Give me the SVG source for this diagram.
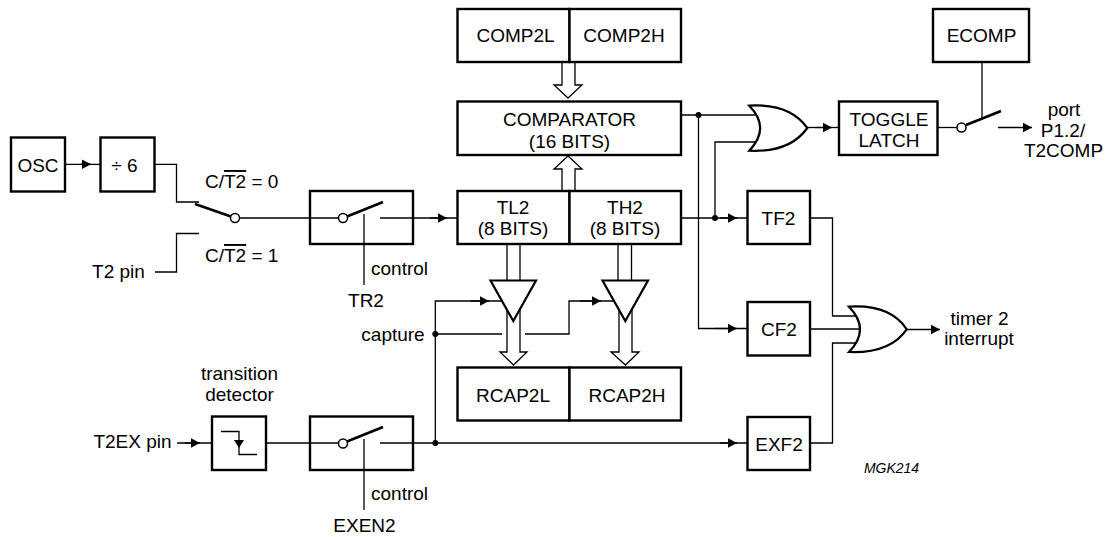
<svg xmlns="http://www.w3.org/2000/svg" width="1107" height="537" viewBox="0 0 1107 537">
<style>
text{font-family:"Liberation Sans",Arial,sans-serif;font-size:19px;fill:#000;text-anchor:middle}
.s{text-anchor:start}
.b{fill:#fff;stroke:#000;stroke-width:2.4}
.n{fill:none;stroke:#000;stroke-width:2.4}
.w{fill:none;stroke:#000;stroke-width:1.3}
.l{fill:none;stroke:#000;stroke-width:2.6}
.c{fill:#fff;stroke:#000;stroke-width:1.5}
.d{fill:#000}
.bus{fill:#fff;stroke:#000;stroke-width:1.3}
.g{fill:#fff;stroke:#000;stroke-width:2.2}
.e{marker-end:url(#ah)}
</style>
<defs>
<marker id="ah" markerUnits="userSpaceOnUse" markerWidth="10" markerHeight="11" refX="9.5" refY="5.5" orient="auto"><path d="M0,0.5L9.5,5.5L0,10.5Z" fill="#000"/></marker>
</defs>
<g id="connectors">
<path class="w" d="M65,164.300H100"/><path class="w e" d="M80,164.300H91"/>
<path class="w" d="M155,164.300H176.500V202H199"/>
<path class="w" d="M155,272H176.500V233.500H199"/>
<path class="w" d="M240,218H339"/>
<path class="w" d="M380,218H457"/><path class="w e" d="M430,218H447"/>
<path class="w" d="M364,214V285"/>
<path class="w" d="M177,443H212"/><path class="w e" d="M185,443H200"/>
<path class="w" d="M266,443H339"/>
<path class="w" d="M380,443H747"/><path class="w e" d="M720,443H737"/>
<path class="w" d="M364,439V510"/>
<path class="w" d="M435.300,443V301H502"/><path class="w e" d="M470,301H489"/>
<path class="w" d="M435,334H502"/>
<path class="w" d="M525,334H569V301H613"/><path class="w e" d="M580,301H601"/>
<path class="w" d="M681,115H755"/>
<path class="w" d="M698.500,115V328.500H747"/><path class="w e" d="M715,328.500H737"/>
<path class="w" d="M681,218H747"/><path class="w e" d="M720,218H737"/>
<path class="w" d="M715,218V142H755"/>
<path class="w" d="M807,127.500H839"/><path class="w e" d="M815,127.500H832"/>
<path class="w" d="M938,127.500H957"/>
<path class="w" d="M982,62V118"/>
<path class="w e" d="M998,127.500H1032"/>
<path class="w" d="M810,218H832.500V316H855"/>
<path class="w" d="M810,329H859"/>
<path class="w" d="M810,443H832.500V343H855"/>
<path class="w e" d="M907,329.500H940"/>
<circle class="d" cx="698.500" cy="115" r="3"/>
<circle class="d" cx="715" cy="218" r="3"/>
<circle class="d" cx="435.300" cy="334" r="3"/>
<circle class="d" cx="435.300" cy="443" r="3"/>
<path class="bus" d="M562,62V85H554L568,98L582,85H575V62"/>
<path class="bus" d="M562,191V169H554L568,156L582,169H575V191"/>
<path class="w" d="M507,244V282M520,244V282M618,244V282M631.500,244V282"/>
<path class="bus" d="M507,310V352H500L513.500,365L527,352H520V310"/>
<path class="bus" d="M619,310V352H611L625.500,365L639,352H632V310"/>
</g>
<g id="osc"><rect class="b" x="11" y="137.500" width="54" height="54"/><text x="38" y="172">OSC</text></g>
<g id="div6"><rect class="b" x="100.500" y="137.500" width="54" height="54"/><text x="124.500" y="172">÷ 6</text></g>
<g id="source-switch">
<path class="l" d="M195,204L231,216.500"/><circle class="c" cx="235" cy="218" r="4.500"/>
<text class="s" x="205" y="188">C/<tspan text-decoration="overline">T2</tspan> = 0</text>
<text class="s" x="205" y="262">C/<tspan text-decoration="overline">T2</tspan> = 1</text>
<text x="118.500" y="278">T2 pin</text>
</g>
<g id="tr2-switch">
<rect class="n" x="310" y="191" width="103" height="53"/>
<path class="l" d="M347,216.500L383,202"/><circle class="c" cx="343" cy="218" r="4.500"/>
<text class="s" x="371" y="275">control</text><text x="366" y="307">TR2</text>
</g>
<g id="tl2"><rect class="b" x="457.500" y="191" width="112" height="53"/><text x="513" y="214">TL2</text><text x="513" y="235">(8 BITS)</text></g>
<g id="th2"><rect class="b" x="569.500" y="191" width="111.500" height="53"/><text x="625" y="214">TH2</text><text x="625" y="235">(8 BITS)</text></g>
<g id="comp2l"><rect class="b" x="457.500" y="9" width="112" height="53"/><text x="515.500" y="42">COMP2L</text></g>
<g id="comp2h"><rect class="b" x="569.500" y="9" width="111.500" height="53"/><text x="624" y="42">COMP2H</text></g>
<g id="comparator"><rect class="b" x="457.500" y="101.500" width="223.500" height="53.500"/><text x="569.500" y="126">COMPARATOR</text><text x="569.500" y="148">(16 BITS)</text></g>
<g id="buffer-l"><path class="g" d="M490.500,280.500H536L513.300,321Z"/></g>
<g id="buffer-h"><path class="g" d="M602.500,280.500H648L625.300,321Z"/></g>
<g id="rcap2l"><rect class="b" x="457.500" y="367.500" width="112" height="53"/><text x="513" y="402">RCAP2L</text></g>
<g id="rcap2h"><rect class="b" x="569.500" y="367.500" width="111.500" height="53"/><text x="627" y="402">RCAP2H</text></g>
<text x="393" y="341">capture</text>
<g id="transition-detector">
<rect class="b" x="212" y="416.500" width="54" height="53.500"/>
<path class="w" d="M221,431.500H239V454.500H257"/><path class="d" d="M234,440H244L239,448Z"/>
<text x="239.500" y="380">transition</text><text x="239.500" y="401">detector</text>
</g>
<text x="132.500" y="448">T2EX pin</text>
<g id="exen2-switch">
<rect class="n" x="310" y="416.500" width="103" height="53.500"/>
<path class="l" d="M347,441.500L383,427"/><circle class="c" cx="343" cy="443.500" r="4.500"/>
<text class="s" x="371" y="500">control</text><text x="364.500" y="532">EXEN2</text>
</g>
<g id="or-1"><path class="g" d="M749.300,105.700C776,104 796,112 807.300,128C796,144 776,152 749.300,150.700Q771,128 749.300,105.700Z"/></g>
<g id="toggle-latch"><rect class="b" x="839" y="101.500" width="98.500" height="53.500"/><text x="889" y="126">TOGGLE</text><text x="889" y="147">LATCH</text></g>
<g id="ecomp"><rect class="b" x="933" y="9" width="96" height="53"/><text x="981.500" y="42">ECOMP</text></g>
<g id="output-switch"><path class="l" d="M966,125L1001,111"/><circle class="c" cx="961.500" cy="127.500" r="4.500"/></g>
<g id="port-label"><text x="1064" y="116">port</text><text x="1063" y="137">P1.2/</text><text x="1063.500" y="157">T2COMP</text></g>
<g id="tf2"><rect class="b" x="747.500" y="191" width="62.500" height="53"/><text x="778.500" y="225">TF2</text></g>
<g id="cf2"><rect class="b" x="747.500" y="302" width="62.500" height="53.500"/><text x="779" y="336">CF2</text></g>
<g id="exf2"><rect class="b" x="747.500" y="417" width="62.500" height="53"/><text x="779" y="451">EXF2</text></g>
<g id="or-2"><path class="g" d="M849,306.700C876,305 896,313 906.700,329.300C896,345 876,353 849,352Q871,329.300 849,306.700Z"/></g>
<g id="interrupt-label"><text x="979.500" y="325">timer 2</text><text x="979" y="345">interrupt</text></g>
<text x="891.500" y="473" style="font-size:14px;font-style:italic">MGK214</text>
</svg>
